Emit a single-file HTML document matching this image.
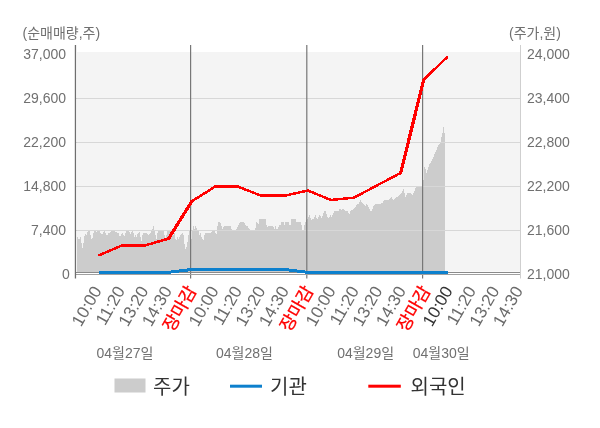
<!DOCTYPE html>
<html lang="ko"><head><meta charset="utf-8"><title>chart</title>
<style>html,body{margin:0;padding:0;background:#fff}body{width:600px;height:428px;overflow:hidden}</style>
</head><body>
<svg width="600" height="428" viewBox="0 0 600 428" style="display:block;font-family:'Liberation Sans','Noto Sans CJK KR',sans-serif">
<rect width="600" height="428" fill="#fff"/>
<rect x="77" y="52" width="443.5" height="219.5" fill="#f4f4f4"/>
<path d="M76.5 272L76.5 243L76.5 243L77.5 237L78.5 238.5L79.5 239L80.5 237L81.5 243L82.5 248L83.5 243L84.5 236L85.5 234L86.5 235L87.5 232.5L88.5 231L89.5 231L90.5 235L91.5 239L92.5 238.5L93.5 233L94.5 231L95.5 231L96.5 232L97.5 231L98.5 231L99.5 231L100.5 232.5L101.5 234L102.5 234L103.5 231.5L104.5 231L105.5 233L106.5 235L107.5 235L108.5 233L109.5 232.5L110.5 231.5L111.5 231L112.5 231L113.5 231L114.5 231.5L115.5 232L116.5 232.5L117.5 233L118.5 233.5L119.5 236L120.5 236L121.5 233.5L122.5 233L123.5 235L124.5 236L125.5 233.5L126.5 231L127.5 231L128.5 231L129.5 232L130.5 234L131.5 232.5L132.5 231L133.5 233L134.5 237L135.5 235L136.5 236.5L137.5 234.5L138.5 233L139.5 232L140.5 237L141.5 241L142.5 235L143.5 233L144.5 232.5L145.5 232.5L146.5 233L147.5 234L148.5 235L149.5 234L150.5 232.5L151.5 230.5L152.5 229L153.5 226L154.5 230L155.5 235L156.5 239L157.5 233L158.5 231L159.5 231L160.5 231L161.5 231L162.5 231L163.5 231.5L164.5 235L165.5 238L166.5 235L167.5 231L168.5 231L169.5 231L170.5 231L171.5 231L172.5 234L173.5 235L174.5 233L175.5 239L176.5 240L177.5 237L178.5 239L179.5 237L180.5 235L181.5 234L182.5 233L183.5 235L184.5 244L185.5 249L186.5 247L187.5 242L188.5 235L189.5 231L190.5 233L191.5 238.7L192.5 230L193.5 226L194.5 229L195.5 226L196.5 228L197.5 230L198.5 231L199.5 235L200.5 232.7L201.5 236.7L202.5 239.3L203.5 240L204.5 235L205.5 233L206.5 233L207.5 232.7L208.5 232.7L209.5 232.7L210.5 232.7L211.5 232L212.5 231L213.5 230.7L214.5 231L215.5 233L216.5 234L217.5 226L218.5 222L219.5 222L220.5 223L221.5 226L222.5 228.7L223.5 227L224.5 226L225.5 226L226.5 226L227.5 226L228.5 226L229.5 226L230.5 226L231.5 228.7L232.5 230L233.5 230L234.5 230L235.5 230L236.5 229L237.5 226.7L238.5 224.7L239.5 222.7L240.5 222L241.5 222L242.5 222L243.5 222L244.5 223.3L245.5 225L246.5 226L247.5 226L248.5 228L249.5 229L250.5 230L251.5 230L252.5 230L253.5 230L254.5 230L255.5 228L256.5 222L257.5 223L258.5 224L259.5 219L260.5 219L261.5 219L262.5 219L263.5 219L264.5 219L265.5 219L266.5 224.7L267.5 226.7L268.5 226L269.5 226L270.5 226L271.5 226L272.5 226L273.5 227.3L274.5 228.7L275.5 226L276.5 228.7L277.5 228.7L278.5 226.7L279.5 225.3L280.5 225.3L281.5 222L282.5 222L283.5 222L284.5 225.3L285.5 222L286.5 222L287.5 222L288.5 222L289.5 224.7L290.5 224.7L291.5 219.3L292.5 219.3L293.5 219.3L294.5 219.3L295.5 219.3L296.5 222L297.5 222L298.5 222L299.5 222L300.5 222L301.5 225.3L302.5 230L303.5 230L304.5 224.7L305.5 222L306.5 220L307.5 218.7L308.5 216.7L309.5 215.3L310.5 218L311.5 220L312.5 219.3L313.5 218.7L314.5 216.7L315.5 215.3L316.5 218L317.5 218.7L318.5 217.3L319.5 215.3L320.5 216L321.5 218L322.5 216L323.5 213.3L324.5 211.3L325.5 211.3L326.5 214L327.5 216.7L328.5 218L329.5 216.7L330.5 215.3L331.5 216.7L332.5 214.7L333.5 212.7L334.5 211L335.5 211L336.5 211L337.5 211L338.5 211L339.5 209.3L340.5 208.7L341.5 210L342.5 208.7L343.5 209.3L344.5 210L345.5 210.7L346.5 210.7L347.5 211.3L348.5 212.7L349.5 214L350.5 211.3L351.5 210L352.5 210L353.5 209.3L354.5 208L355.5 206.7L356.5 205.3L357.5 204L358.5 204L359.5 202L360.5 200L361.5 202L362.5 203.3L363.5 204L364.5 205.3L365.5 206L366.5 204L367.5 204.7L368.5 206.7L369.5 209.3L370.5 210.7L371.5 210.7L372.5 209.3L373.5 206L374.5 204.7L375.5 204L376.5 204L377.5 204L378.5 204L379.5 204L380.5 204L381.5 203.3L382.5 202.7L383.5 201.3L384.5 200L385.5 200L386.5 200L387.5 200L388.5 200L389.5 199.3L390.5 198L391.5 196.7L392.5 198.7L393.5 200L394.5 198.7L395.5 198L396.5 196.7L397.5 196.7L398.5 196L399.5 195.3L400.5 194L401.5 192.7L402.5 190.7L403.5 188.7L404.5 192.7L405.5 196.7L406.5 194.7L407.5 193L408.5 193L409.5 193L410.5 193L411.5 194L412.5 195.3L413.5 193.3L414.5 190.7L415.5 188L416.5 186.3L417.5 186.3L418.5 186.3L419.5 186.3L420.5 186.3L421.5 186.3L422.5 186.3L423.5 180.4L424.5 167.3L425.5 169L426.5 173L427.5 170L428.5 167.3L429.5 164.5L430.5 162.7L431.5 160.8L432.5 159L433.5 157L434.5 154.3L435.5 152.4L436.5 149.6L437.5 146.8L438.5 145L439.5 144L440.5 142L441.5 137.4L442.5 132.8L443.5 127L444.5 132.8L445 132.8L445 272Z" fill="#cccccc" shape-rendering="crispEdges"/>
<rect x="76" y="98" width="444.5" height="1" fill="#d7d7d7"/>
<rect x="76" y="142" width="444.5" height="1" fill="#d7d7d7"/>
<rect x="76" y="186" width="444.5" height="1" fill="#d7d7d7"/>
<rect x="76" y="230" width="444.5" height="1" fill="#d7d7d7"/>
<rect x="190" y="45" width="1.2" height="233.5" fill="#777"/>
<rect x="306.2" y="45" width="1.2" height="233.5" fill="#777"/>
<rect x="422" y="45" width="1.2" height="233.5" fill="#777"/>
<rect x="76" y="272" width="445" height="1" fill="#8a8a8a"/>
<rect x="76" y="274" width="445" height="1" fill="#a0a0a0"/>
<rect x="74.8" y="45" width="1.3" height="233.5" fill="#6e6e6e"/>
<rect x="520" y="45" width="1" height="233.5" fill="#cfcfcf"/>
<polyline points="99.0,272.3 122.2,272.3 145.4,272.3 168.6,272.3 191.8,269.5 215.0,269.5 238.2,269.5 261.4,269.5 284.6,269.5 307.8,272.3 331.0,272.3 354.2,272.3 377.4,272.3 400.6,272.3 423.8,272.3 448.0,272.3" fill="none" stroke="#0d80cd" stroke-width="3" stroke-linejoin="round" shape-rendering="crispEdges"/>
<g stroke="#ff0000" stroke-linecap="round" shape-rendering="crispEdges">
<line x1="99.0" y1="255.3" x2="122.2" y2="245.3" stroke-width="2.5"/>
<line x1="122.2" y1="245.3" x2="145.4" y2="245.3" stroke-width="3"/>
<line x1="145.4" y1="245.3" x2="168.6" y2="238.6" stroke-width="2.5"/>
<line x1="168.6" y1="238.6" x2="191.8" y2="201.3" stroke-width="3.2"/>
<line x1="191.8" y1="201.3" x2="215.0" y2="186.7" stroke-width="2.5"/>
<line x1="215.0" y1="186.7" x2="238.2" y2="186.7" stroke-width="3"/>
<line x1="238.2" y1="186.7" x2="261.4" y2="195.8" stroke-width="2.5"/>
<line x1="261.4" y1="195.8" x2="284.6" y2="195.8" stroke-width="3"/>
<line x1="284.6" y1="195.8" x2="307.8" y2="190.5" stroke-width="2.5"/>
<line x1="307.8" y1="190.5" x2="331.0" y2="200" stroke-width="2.5"/>
<line x1="331.0" y1="200" x2="354.2" y2="197.6" stroke-width="2.5"/>
<line x1="354.2" y1="197.6" x2="377.4" y2="185.2" stroke-width="2.5"/>
<line x1="377.4" y1="185.2" x2="400.6" y2="173" stroke-width="2.5"/>
<line x1="400.6" y1="173" x2="423.8" y2="79.5" stroke-width="3.2"/>
<line x1="423.8" y1="79.5" x2="447.0" y2="57.3" stroke-width="2.5"/>
</g>
<g font-size="14" fill="#707070">
<text x="22.5" y="37.8">(순매매량,주)</text>
<text x="66" y="59.4" text-anchor="end">37,000</text>
<text x="66" y="103" text-anchor="end">29,600</text>
<text x="66" y="147" text-anchor="end">22,200</text>
<text x="66" y="191" text-anchor="end">14,800</text>
<text x="66" y="235.3" text-anchor="end">7,400</text>
<text x="69.7" y="279.4" text-anchor="end">0</text>
<text x="509" y="37.8">(주가,원)</text>
<text x="527" y="59.2">24,000</text>
<text x="527" y="103.2">23,400</text>
<text x="527" y="147">22,800</text>
<text x="527" y="191">22,200</text>
<text x="527" y="235.3">21,600</text>
<text x="527" y="279.4">21,000</text>
<text x="125" y="357.8" text-anchor="middle">04월27일</text>
<text x="244.5" y="357.8" text-anchor="middle">04월28일</text>
<text x="365.6" y="357.8" text-anchor="middle">04월29일</text>
<text x="441.2" y="357.8" text-anchor="middle">04월30일</text>
</g>
<g font-size="17" text-anchor="end">
<text transform="translate(102.2,290.6) rotate(-60)" fill="#6b6b6b">10:00</text>
<text transform="translate(125.6,290.6) rotate(-60)" fill="#6b6b6b">11:20</text>
<text transform="translate(149.0,290.6) rotate(-60)" fill="#6b6b6b">13:20</text>
<text transform="translate(172.4,290.6) rotate(-60)" fill="#6b6b6b">14:30</text>
<text transform="translate(197.1,290.6) rotate(-60)" fill="#ff0000" font-size="17.6" stroke="#ff0000" stroke-width="0.3">장마감</text>
<text transform="translate(219.2,290.6) rotate(-60)" fill="#6b6b6b">10:00</text>
<text transform="translate(242.6,290.6) rotate(-60)" fill="#6b6b6b">11:20</text>
<text transform="translate(266.0,290.6) rotate(-60)" fill="#6b6b6b">13:20</text>
<text transform="translate(289.4,290.6) rotate(-60)" fill="#6b6b6b">14:30</text>
<text transform="translate(314.1,290.6) rotate(-60)" fill="#ff0000" font-size="17.6" stroke="#ff0000" stroke-width="0.3">장마감</text>
<text transform="translate(336.2,290.6) rotate(-60)" fill="#6b6b6b">10:00</text>
<text transform="translate(359.6,290.6) rotate(-60)" fill="#6b6b6b">11:20</text>
<text transform="translate(383.0,290.6) rotate(-60)" fill="#6b6b6b">13:20</text>
<text transform="translate(406.4,290.6) rotate(-60)" fill="#6b6b6b">14:30</text>
<text transform="translate(431.1,290.6) rotate(-60)" fill="#ff0000" font-size="17.6" stroke="#ff0000" stroke-width="0.3">장마감</text>
<text transform="translate(453.2,290.6) rotate(-60)" fill="#333333">10:00</text>
<text transform="translate(476.6,290.6) rotate(-60)" fill="#6b6b6b">11:20</text>
<text transform="translate(500.0,290.6) rotate(-60)" fill="#6b6b6b">13:20</text>
<text transform="translate(523.4,290.6) rotate(-60)" fill="#6b6b6b">14:30</text>
</g>
<rect x="114.5" y="378.5" width="31" height="14" fill="#cccccc"/>
<text x="153" y="393.6" font-size="20" fill="#333">주가</text>
<rect x="230" y="384.7" width="32" height="3" fill="#0d80cd"/>
<text x="270" y="393.6" font-size="20" fill="#333">기관</text>
<rect x="368.3" y="384.7" width="32.5" height="3" fill="#ff0000"/>
<text x="410.5" y="393.6" font-size="20" fill="#333">외국인</text>
</svg>
</body></html>
